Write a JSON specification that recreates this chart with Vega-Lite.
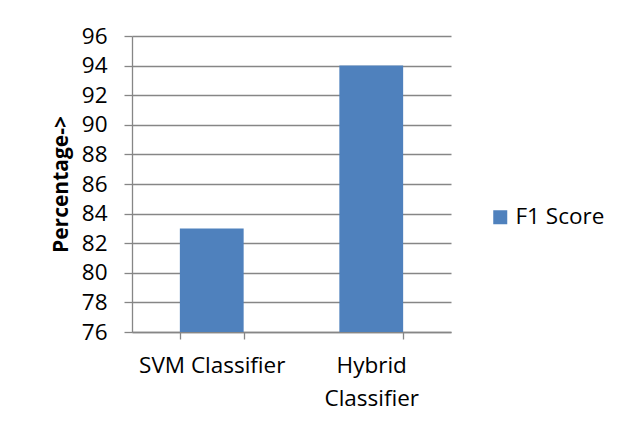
{
  "$schema": "https://vega.github.io/schema/vega-lite/v6.json",
  "autosize": {"type": "none"},
  "padding": {"left": 132, "top": 36, "right": 176, "bottom": 94},
  "width": 319,
  "height": 296,
  "background": "white",
  "data": {"values": [
    {"classifier": "SVM Classifier", "series": "F1 Score", "value": 83},
    {"classifier": "Hybrid Classifier", "series": "F1 Score", "value": 94}
  ]},
  "mark": {"type": "bar", "color": "#4F81BD", "clip": true},
  "encoding": {
    "x": {
      "field": "classifier", "type": "nominal", "sort": null,
      "scale": {"paddingInner": 0.6, "paddingOuter": 0.3},
      "axis": {
        "title": null, "labelAngle": 0, "grid": false, "tickBand": "extent",
        "labelExpr": "datum.value == 'Hybrid Classifier' ? ['Hybrid', 'Classifier'] : datum.value",
        "labelLineHeight": 33, "labelPadding": 15, "tickSize": 7
      }
    },
    "y": {
      "field": "value", "type": "quantitative",
      "scale": {"domain": [76, 96], "nice": false, "zero": false},
      "axis": {
        "title": "Percentage->", "values": [76, 78, 80, 82, 84, 86, 88, 90, 92, 94, 96],
        "tickSize": 8, "labelPadding": 17, "titlePadding": 10, "titleFontWeight": "bold"
      }
    },
    "color": {
      "field": "series", "type": "nominal",
      "scale": {"range": ["#4F81BD"]},
      "legend": {"title": null, "orient": "none", "legendX": 357, "legendY": 170, "symbolType": "square", "symbolSize": 196, "labelFontSize": 22.5, "labelFont": "Open Sans", "labelColor": "black", "symbolStrokeWidth": 0, "symbolOpacity": 1, "labelOffset": 4}
    }
  },
  "config": {
    "view": {"stroke": null},
    "axis": {
      "labelFont": "Open Sans", "labelFontSize": 22.5, "labelColor": "black",
      "titleFont": "Open Sans", "titleFontSize": 21, "titleColor": "black",
      "domainColor": "#868686", "tickColor": "#868686", "gridColor": "#868686",
      "domainWidth": 1.3, "tickWidth": 1.3, "gridWidth": 1.3
    }
  }
}
